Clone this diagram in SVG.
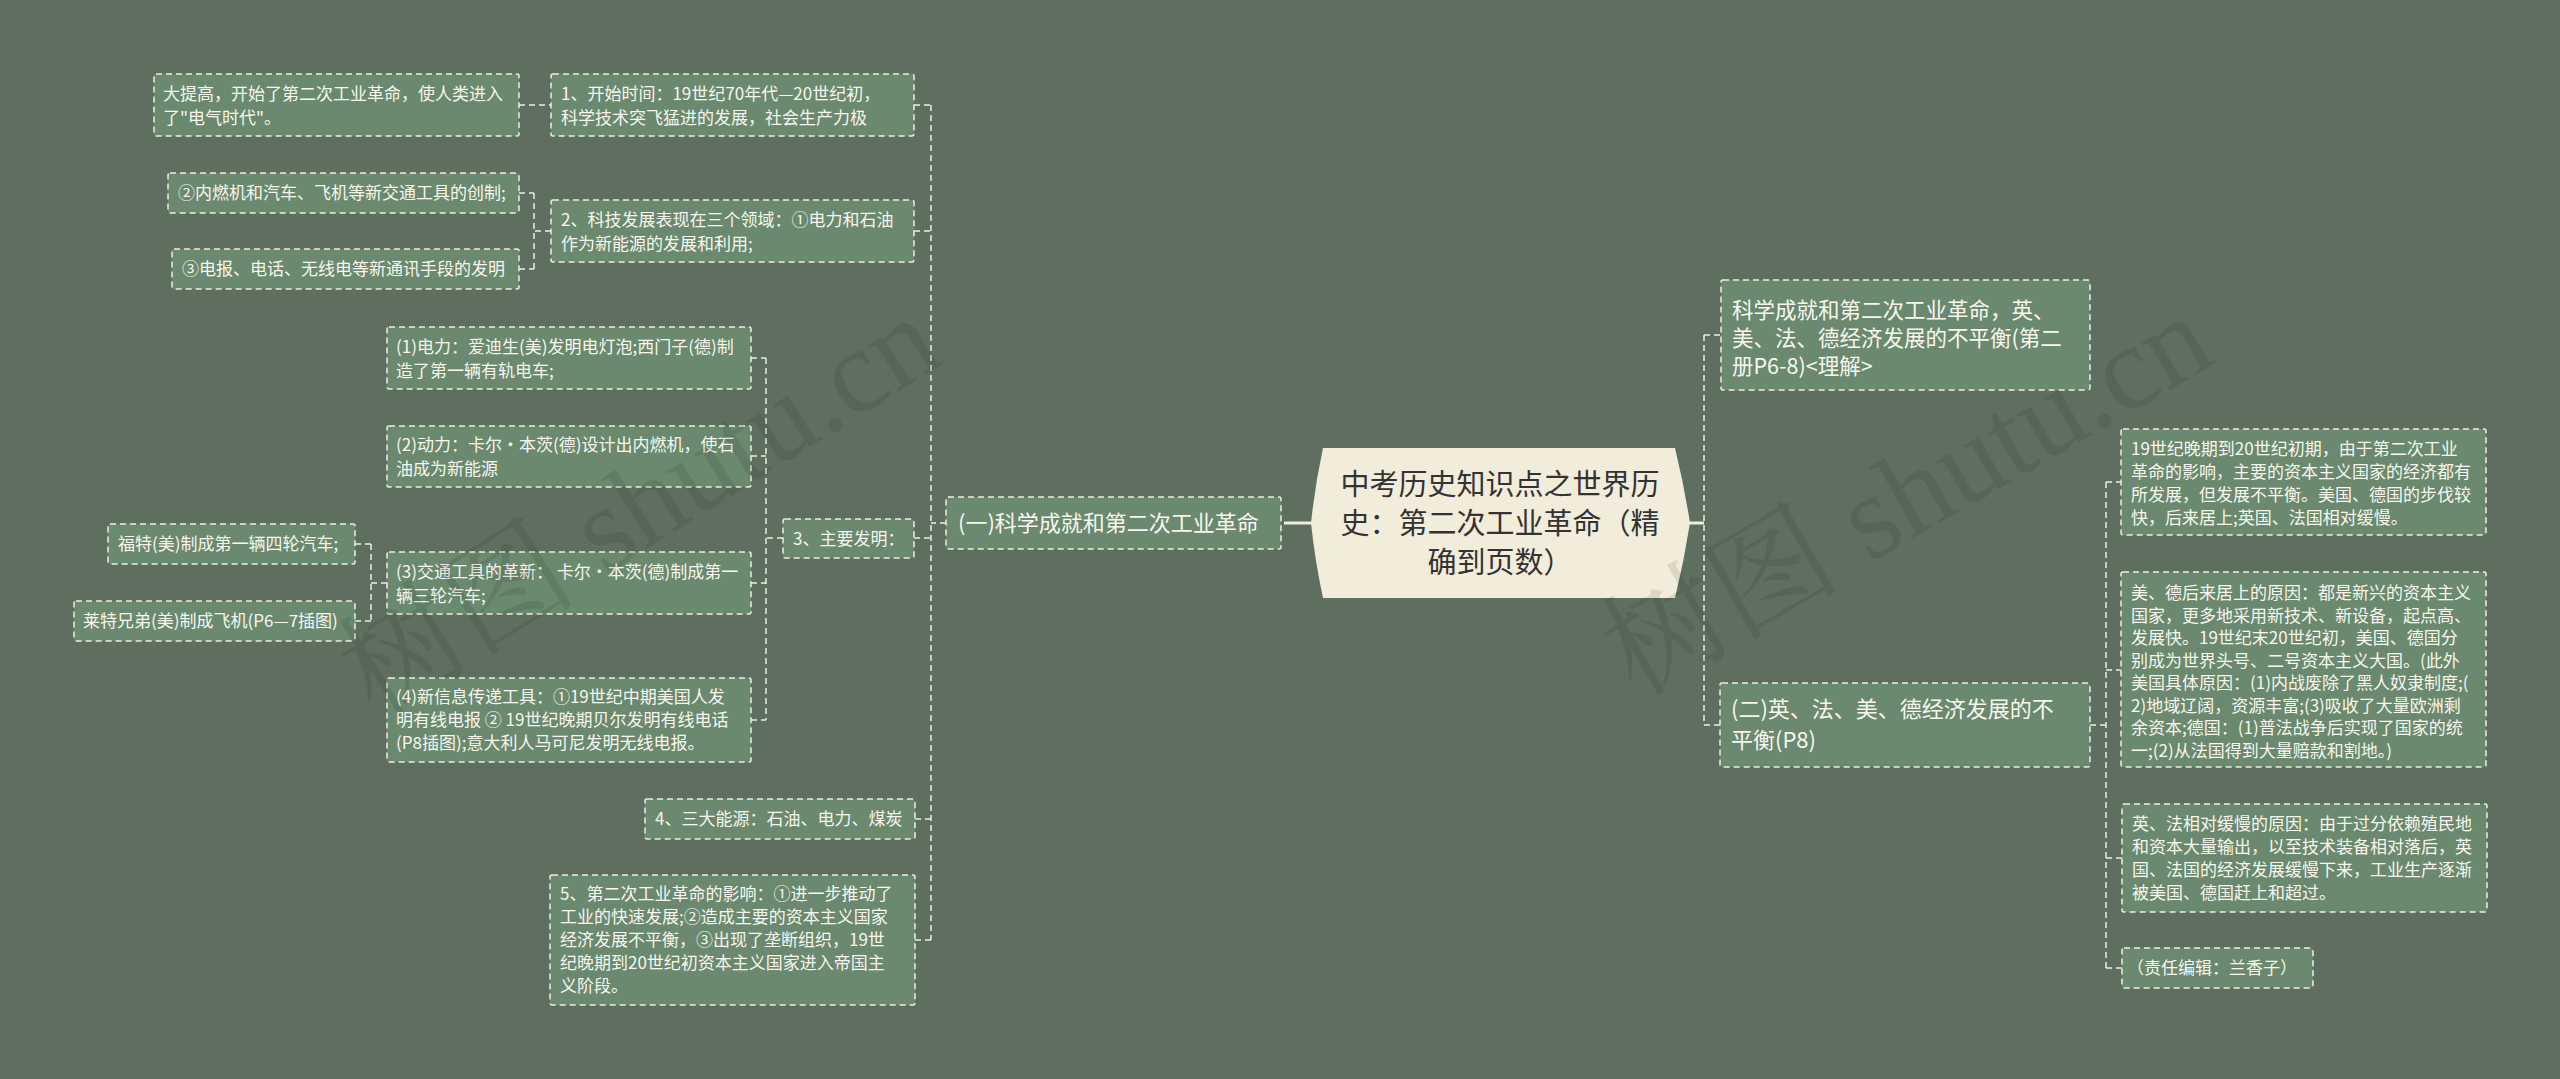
<svg xmlns="http://www.w3.org/2000/svg" width="2560" height="1079" viewBox="0 0 2560 1079">
<style>
.bg{fill:#5e6f5f}
.box{fill:#6a896e;stroke:#eeeedf;stroke-width:1.5;stroke-dasharray:6 4}
.t{font-family:"Noto Sans CJK SC","Microsoft YaHei",sans-serif;fill:#f7f7ee;font-size:17px}
.s{font-size:22px}
.lk{fill:none;stroke:#eeeedf;stroke-width:1.5;stroke-dasharray:6 4}
.solid{fill:none;stroke:#f2ecd9;stroke-width:3}
.root{fill:#f2ecda}
.rt{font-family:"Noto Sans CJK SC","Microsoft YaHei",sans-serif;fill:#333333;font-size:29px;text-anchor:middle}
.wm{font-family:"Liberation Serif","Noto Serif CJK SC","Noto Sans CJK SC",serif;font-size:120px;fill:#000;fill-opacity:0.09;text-anchor:middle}
</style>
<rect class="bg" x="0" y="0" width="2560" height="1079"/>

<g id="connectors">
  <!-- root to section A -->
  <path class="solid" d="M1284,523 H1312"/>
  <path class="solid" d="M1689,523 H1704"/>
  <!-- right trunk -->
  <path class="lk" d="M1704,335 V725"/>
  <path class="lk" d="M1704,335 H1721"/>
  <path class="lk" d="M1704,725 H1720"/>
  <!-- B2 children -->
  <path class="lk" d="M2090,725 H2106"/>
  <path class="lk" d="M2106,482 V968"/>
  <path class="lk" d="M2106,482 H2121"/>
  <path class="lk" d="M2106,670 H2121"/>
  <path class="lk" d="M2106,858 H2122"/>
  <path class="lk" d="M2106,968 H2122"/>
  <!-- section A trunk -->
  <path class="lk" d="M946,523 H931"/>
  <path class="lk" d="M931,105 V940"/>
  <path class="lk" d="M914,105 H931"/>
  <path class="lk" d="M914,231 H931"/>
  <path class="lk" d="M914,538 H931"/>
  <path class="lk" d="M915,819 H931"/>
  <path class="lk" d="M915,940 H931"/>
  <!-- node 1 child -->
  <path class="lk" d="M519,105 H551"/>
  <!-- node 2 children -->
  <path class="lk" d="M551,231 H534"/>
  <path class="lk" d="M534,193 V269"/>
  <path class="lk" d="M519,193 H534"/>
  <path class="lk" d="M519,269 H534"/>
  <!-- node 3 children -->
  <path class="lk" d="M783,538 H766"/>
  <path class="lk" d="M766,358 V720"/>
  <path class="lk" d="M751,358 H766"/>
  <path class="lk" d="M751,456 H766"/>
  <path class="lk" d="M751,583 H766"/>
  <path class="lk" d="M751,720 H766"/>
  <!-- (3) children -->
  <path class="lk" d="M387,583 H371"/>
  <path class="lk" d="M371,544 V621"/>
  <path class="lk" d="M355,544 H371"/>
  <path class="lk" d="M355,621 H371"/>
</g>

<g id="root">
  <path class="root" d="M1323,448 H1675 Q1684,485 1690,523 Q1684,561 1675,598 H1323 Q1315,561 1311,523 Q1315,485 1323,448 Z"/>
  <text class="rt" x="1500" y="495">中考历史知识点之世界历</text>
  <text class="rt" x="1500" y="534">史：第二次工业革命（精</text>
  <text class="rt" x="1500" y="573">确到页数）</text>
</g>

<g id="secA">
  <rect class="box" x="946" y="497" width="335" height="52" rx="2"/>
  <text class="t s" x="958" y="531">(一)科学成就和第二次工业革命</text>
</g>

<g id="n1">
  <rect class="box" x="551" y="74" width="363" height="62" rx="2"/>
  <text class="t" x="561" y="100">1、开始时间：19世纪70年代—20世纪初，</text>
  <text class="t" x="561" y="124">科学技术突飞猛进的发展，社会生产力极</text>
</g>
<g id="n1a">
  <rect class="box" x="154" y="74" width="365" height="62" rx="2"/>
  <text class="t" x="163" y="100">大提高，开始了第二次工业革命，使人类进入</text>
  <text class="t" x="163" y="124">了"电气时代"。</text>
</g>

<g id="n2">
  <rect class="box" x="551" y="200" width="363" height="62" rx="2"/>
  <text class="t" x="561" y="226">2、科技发展表现在三个领域：①电力和石油</text>
  <text class="t" x="561" y="250">作为新能源的发展和利用;</text>
</g>
<g id="n2a">
  <rect class="box" x="168" y="173" width="351" height="40" rx="2"/>
  <text class="t" x="178" y="199">②内燃机和汽车、飞机等新交通工具的创制;</text>
</g>
<g id="n2b">
  <rect class="box" x="172" y="249" width="347" height="40" rx="2"/>
  <text class="t" x="182" y="275">③电报、电话、无线电等新通讯手段的发明</text>
</g>

<g id="n3">
  <rect class="box" x="783" y="519" width="131" height="39" rx="2"/>
  <text class="t" x="793" y="545">3、主要发明：</text>
</g>
<g id="n31">
  <rect class="box" x="387" y="327" width="364" height="62" rx="2"/>
  <text class="t" x="396" y="353">(1)电力：爱迪生(美)发明电灯泡;西门子(德)制</text>
  <text class="t" x="396" y="377">造了第一辆有轨电车;</text>
</g>
<g id="n32">
  <rect class="box" x="387" y="426" width="364" height="61" rx="2"/>
  <text class="t" x="396" y="451">(2)动力：卡尔·本茨(德)设计出内燃机，使石</text>
  <text class="t" x="396" y="475">油成为新能源</text>
</g>
<g id="n33">
  <rect class="box" x="387" y="552" width="364" height="62" rx="2"/>
  <text class="t" x="396" y="578">(3)交通工具的革新： 卡尔·本茨(德)制成第一</text>
  <text class="t" x="396" y="602">辆三轮汽车;</text>
</g>
<g id="n33a">
  <rect class="box" x="108" y="524" width="247" height="40" rx="2"/>
  <text class="t" x="118" y="550">福特(美)制成第一辆四轮汽车;</text>
</g>
<g id="n33b">
  <rect class="box" x="74" y="601" width="281" height="40" rx="2"/>
  <text class="t" x="83" y="627">莱特兄弟(美)制成飞机(P6—7插图)</text>
</g>
<g id="n34">
  <rect class="box" x="387" y="678" width="364" height="84" rx="2"/>
  <text class="t" x="396" y="703">(4)新信息传递工具：①19世纪中期美国人发</text>
  <text class="t" x="396" y="726">明有线电报 ② 19世纪晚期贝尔发明有线电话</text>
  <text class="t" x="396" y="749">(P8插图);意大利人马可尼发明无线电报。</text>
</g>

<g id="n4">
  <rect class="box" x="645" y="799" width="270" height="40" rx="2"/>
  <text class="t" x="655" y="825">4、三大能源：石油、电力、煤炭</text>
</g>
<g id="n5">
  <rect class="box" x="550" y="875" width="365" height="130" rx="2"/>
  <text class="t" x="560" y="900">5、第二次工业革命的影响：①进一步推动了</text>
  <text class="t" x="560" y="923">工业的快速发展;②造成主要的资本主义国家</text>
  <text class="t" x="560" y="946">经济发展不平衡，③出现了垄断组织，19世</text>
  <text class="t" x="560" y="969">纪晚期到20世纪初资本主义国家进入帝国主</text>
  <text class="t" x="560" y="992">义阶段。</text>
</g>

<g id="secB1">
  <rect class="box" x="1721" y="280" width="369" height="110" rx="2"/>
  <text class="t" x="1732" y="318" style="font-size:21.5px">科学成就和第二次工业革命，英、</text>
  <text class="t" x="1732" y="346" style="font-size:21.5px">美、法、德经济发展的不平衡(第二</text>
  <text class="t" x="1732" y="374" style="font-size:21.5px">册P6-8)&lt;理解&gt;</text>
</g>
<g id="secB2">
  <rect class="box" x="1720" y="683" width="370" height="84" rx="2"/>
  <text class="t s" x="1731" y="717">(二)英、法、美、德经济发展的不</text>
  <text class="t s" x="1731" y="748">平衡(P8)</text>
</g>

<g id="r1">
  <rect class="box" x="2121" y="429" width="365" height="106" rx="2"/>
  <text class="t" x="2131" y="455">19世纪晚期到20世纪初期，由于第二次工业</text>
  <text class="t" x="2131" y="478">革命的影响，主要的资本主义国家的经济都有</text>
  <text class="t" x="2131" y="501">所发展，但发展不平衡。美国、德国的步伐较</text>
  <text class="t" x="2131" y="524">快，后来居上;英国、法国相对缓慢。</text>
</g>
<g id="r2">
  <rect class="box" x="2121" y="572" width="365" height="195" rx="2"/>
  <text class="t" x="2131" y="599">美、德后来居上的原因：都是新兴的资本主义</text>
  <text class="t" x="2131" y="622">国家，更多地采用新技术、新设备，起点高、</text>
  <text class="t" x="2131" y="644">发展快。19世纪末20世纪初，美国、德国分</text>
  <text class="t" x="2131" y="667">别成为世界头号、二号资本主义大国。(此外</text>
  <text class="t" x="2131" y="689">美国具体原因：(1)内战废除了黑人奴隶制度;(</text>
  <text class="t" x="2131" y="712">2)地域辽阔，资源丰富;(3)吸收了大量欧洲剩</text>
  <text class="t" x="2131" y="734">余资本;德国：(1)普法战争后实现了国家的统</text>
  <text class="t" x="2131" y="757">一;(2)从法国得到大量赔款和割地。)</text>
</g>
<g id="r3">
  <rect class="box" x="2122" y="804" width="365" height="108" rx="2"/>
  <text class="t" x="2132" y="830">英、法相对缓慢的原因：由于过分依赖殖民地</text>
  <text class="t" x="2132" y="853">和资本大量输出，以至技术装备相对落后，英</text>
  <text class="t" x="2132" y="876">国、法国的经济发展缓慢下来，工业生产逐渐</text>
  <text class="t" x="2132" y="899">被美国、德国赶上和超过。</text>
</g>
<g id="r4">
  <rect class="box" x="2122" y="948" width="191" height="40" rx="2"/>
  <text class="t" x="2127" y="974">（责任编辑：兰香子）</text>
</g>

<g id="watermark">
  <text class="wm" transform="translate(661,540) rotate(-32)">树图 shutu.cn</text>
  <text class="wm" transform="translate(1927,530) rotate(-30)">树图 shutu.cn</text>
</g>
</svg>
